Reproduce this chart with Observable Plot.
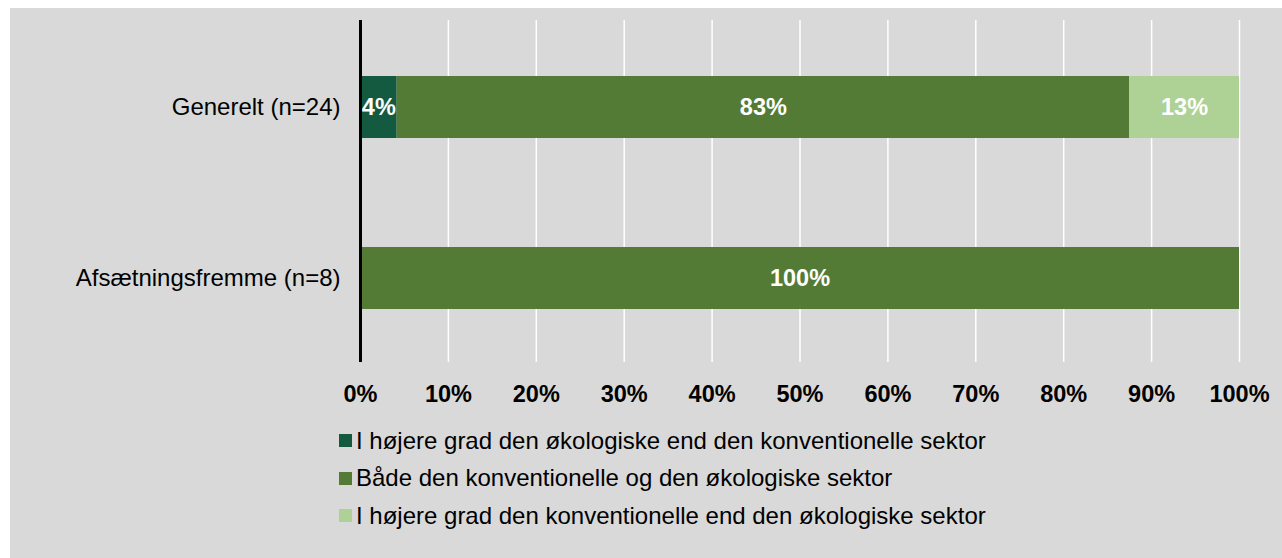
<!DOCTYPE html>
<html>
<head>
<meta charset="utf-8">
<script src="https://cdn.jsdelivr.net/npm/d3@7"></script>
<script src="https://cdn.jsdelivr.net/npm/@observablehq/plot@0.6"></script>
<style>
  html, body { margin: 0; padding: 0; background: #ffffff; }
  #panel { position: absolute; left: 10px; top: 8px; width: 1272px; height: 550px; background: #d9d9d9; font-family: "Liberation Sans", Arial, sans-serif; }
  #legend { position: absolute; left: 329px; top: 414px; }
  .row { display: flex; align-items: center; height: 37.5px; font-size: 24px; color: #000; }
  .sw { width: 13px; height: 13px; margin-right: 4px; flex: none; }
</style>
</head>
<body>
<div id="panel"><div id="chart"></div><div id="legend"></div></div>
<script>
const categories = ["Generelt (n=24)", "Afsætningsfremme (n=8)"];
const seriesNames = [
  "I højere grad den økologiske end den konventionelle sektor",
  "Både den konventionelle og den økologiske sektor",
  "I højere grad den konventionelle end den økologiske sektor"
];
const generelt = [4.17, 83.33, 12.5];
const afsaetning = [0, 100, 0];
const tickValues = [0, 10, 20, 30, 40, 50, 60, 70, 80, 90, 100];
const seriesColors = ["#145a41", "#537b36", "#aed296"];

const rows = [];
[generelt, afsaetning].forEach((vals, i) => {
  vals.forEach((v, j) => rows.push({cat: categories[i], series: seriesNames[j], value: v}));
});
const shown = rows.filter(d => d.value > 0);

const font = "'Liberation Sans', Arial, sans-serif";
const chart = Plot.plot({
  width: 1272,
  height: 410,
  marginLeft: 350,
  marginRight: 43,
  marginTop: 12,
  marginBottom: 56,
  style: {background: "transparent", fontFamily: font, fontSize: "24px", color: "#000"},
  x: {domain: [0, 100], ticks: tickValues, tickFormat: d => d + "%"},
  y: {domain: categories, paddingInner: 0.637, paddingOuter: 0.3185, align: 0.515, label: null},
  color: {domain: seriesNames, range: seriesColors},
  marks: [
    Plot.ruleX(tickValues.slice(1), {stroke: "#ffffff", strokeWidth: 1.5}),
    Plot.barX(shown, Plot.stackX({x: "value", y: "cat", fill: "series", order: seriesNames})),
    Plot.text(shown, Plot.stackX({x: "value", y: "cat", z: "series", order: seriesNames,
      text: d => Math.round(d.value) + "%", fill: "#ffffff", fontWeight: "bold", fontSize: 23.5})),
    Plot.ruleX([0], {stroke: "#000000", strokeWidth: 3}),
    Plot.axisX({ticks: tickValues, tickFormat: d => d + "%", tickSize: 0, tickPadding: 23, fontWeight: "bold", fontSize: 23.5, label: null}),
    Plot.axisY({tickSize: 0, tickPadding: 20, label: null})
  ]
});
document.getElementById("chart").appendChild(chart);

const legend = document.getElementById("legend");
seriesNames.forEach((name, i) => {
  const row = document.createElement("div");
  row.className = "row";
  const sw = document.createElement("span");
  sw.className = "sw";
  sw.style.background = seriesColors[i];
  const t = document.createElement("span");
  t.textContent = name;
  row.appendChild(sw);
  row.appendChild(t);
  legend.appendChild(row);
});
</script>
</body>
</html>
